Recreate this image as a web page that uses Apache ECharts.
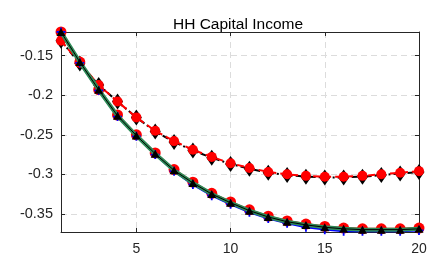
<!DOCTYPE html>
<html>
<head>
<meta charset="utf-8">
<script src="https://cdn.jsdelivr.net/npm/echarts@6/dist/echarts.min.js"></script>
<style>
  html, body { margin: 0; padding: 0; background: #fff; }
  #chart { width: 439px; height: 262px; }
</style>
</head>
<body>
<div id="chart"></div>
<script>
// periods 1..20
var periods = [1,2,3,4,5,6,7,8,9,10,11,12,13,14,15,16,17,18,19,20];
// lower group (solid lines)
var lowerGreen = [-0.120,-0.158,-0.193,-0.226,-0.251,-0.274,-0.295,-0.311,-0.325,-0.336,-0.346,-0.354,-0.360,-0.364,-0.367,-0.369,-0.370,-0.370,-0.370,-0.369];
var lowerBlue  = [-0.120,-0.159,-0.194,-0.227,-0.252,-0.275,-0.296,-0.313,-0.327,-0.338,-0.348,-0.356,-0.362,-0.367,-0.370,-0.372,-0.372,-0.372,-0.372,-0.371];
var lowerBlack = [-0.120,-0.158,-0.193,-0.226,-0.251,-0.274,-0.295,-0.311,-0.325,-0.336,-0.346,-0.354,-0.360,-0.364,-0.367,-0.369,-0.370,-0.370,-0.370,-0.369];
var lowerRed   = [-0.120,-0.158,-0.193,-0.225,-0.250,-0.273,-0.294,-0.310,-0.324,-0.335,-0.345,-0.353,-0.359,-0.363,-0.366,-0.368,-0.369,-0.369,-0.369,-0.368];
// upper group (dashed lines)
var upperBlack = [-0.131,-0.160,-0.187,-0.208,-0.228,-0.246,-0.259,-0.270,-0.279,-0.287,-0.293,-0.298,-0.301,-0.303,-0.304,-0.304,-0.303,-0.301,-0.299,-0.297];
var upperRed   = [-0.131,-0.159,-0.187,-0.208,-0.228,-0.245,-0.258,-0.269,-0.278,-0.286,-0.292,-0.297,-0.300,-0.302,-0.303,-0.303,-0.302,-0.300,-0.298,-0.296];
var yTicks = [-0.35,-0.3,-0.25,-0.2,-0.15];
var xTicks = [5,10,15,20];

function pairs(vals) {
  var out = [];
  for (var i = 0; i < periods.length; i++) out.push([periods[i], vals[i]]);
  return out;
}

var chart = echarts.init(document.getElementById('chart'));
var labelColor = '#262626';
var option = {
  animation: false,
  title: {
    text: 'HH Capital Income',
    left: 233, top: 12, textAlign: 'center',
    textStyle: { fontFamily: 'Liberation Sans', fontSize: 15.5, fontWeight: 'normal', color: '#000' }
  },
  grid: { left: 61, right: 20, top: 32, bottom: 30, containLabel: false },
  xAxis: [{
    type: 'value', min: 1, max: 20,
    axisLine: { show: true, onZero: false, lineStyle: { color: '#262626', width: 1 } },
    axisTick: { show: true, inside: true, length: 4, customValues: xTicks, lineStyle: { color: '#262626' } },
    axisLabel: { customValues: xTicks, color: labelColor, fontFamily: 'Liberation Sans', fontSize: 14, margin: 10 },
    splitLine: { show: true, lineStyle: { color: '#dcdcdc', type: [6, 4], width: 1 } }
  }, {
    type: 'value', min: 1, max: 20, position: 'top',
    axisLine: { show: true, onZero: false, lineStyle: { color: '#262626', width: 1 } },
    axisTick: { show: true, inside: true, length: 4, customValues: xTicks, lineStyle: { color: '#262626' } },
    axisLabel: { show: false },
    splitLine: { show: false }
  }],
  yAxis: [{
    type: 'value', min: -0.373, max: -0.12,
    axisLine: { show: true, onZero: false, lineStyle: { color: '#262626', width: 1 } },
    axisTick: { show: true, inside: true, length: 4, customValues: yTicks, lineStyle: { color: '#262626' } },
    axisLabel: { customValues: yTicks, color: labelColor, fontFamily: 'Liberation Sans', fontSize: 14.5, margin: 8,
      formatter: function (v) { return String(Math.round(v * 100) / 100); } },
    splitLine: { show: true, lineStyle: { color: '#dcdcdc', type: [6, 4], width: 1 } }
  }, {
    type: 'value', min: -0.373, max: -0.12, position: 'right',
    axisLine: { show: true, onZero: false, lineStyle: { color: '#262626', width: 1 } },
    axisTick: { show: true, inside: true, length: 4, customValues: yTicks, lineStyle: { color: '#262626' } },
    axisLabel: { show: false },
    splitLine: { show: false }
  }],
  series: [
    { name: 'upper black', type: 'line', data: pairs(upperBlack), z: 3,
      lineStyle: { color: '#000', width: 2, type: [6, 3, 2, 3] },
      symbol: 'diamond', symbolSize: [11, 16], itemStyle: { color: '#000' } },
    { name: 'upper red', type: 'line', data: pairs(upperRed), z: 4,
      lineStyle: { color: '#ff0000', width: 2, type: [7, 4] },
      symbol: 'circle', symbolSize: 10, itemStyle: { color: '#ff0000' } },
    { name: 'lower red', type: 'line', data: pairs(lowerRed), z: 5,
      lineStyle: { color: '#ff0000', width: 2 },
      symbol: 'circle', symbolSize: 11, itemStyle: { color: '#ff0000' } },
    { name: 'lower blue', type: 'line', data: pairs(lowerBlue), z: 6,
      lineStyle: { color: '#0000ff', width: 2 },
      symbol: 'path://M4,0H6V4H10V6H6V10H4V6H0V4H4Z', symbolSize: 9, itemStyle: { color: '#0000ff' } },
    { name: 'lower green', type: 'line', data: pairs(lowerGreen), z: 7,
      lineStyle: { color: '#2e8b57', width: 4 }, symbol: 'none' },
    { name: 'lower black', type: 'line', data: pairs(lowerBlack), z: 8,
      lineStyle: { color: '#000', width: 1 },
      symbol: 'triangle', symbolSize: [9, 8], itemStyle: { color: '#000' } }
  ]
};
chart.setOption(option);
</script>
</body>
</html>
